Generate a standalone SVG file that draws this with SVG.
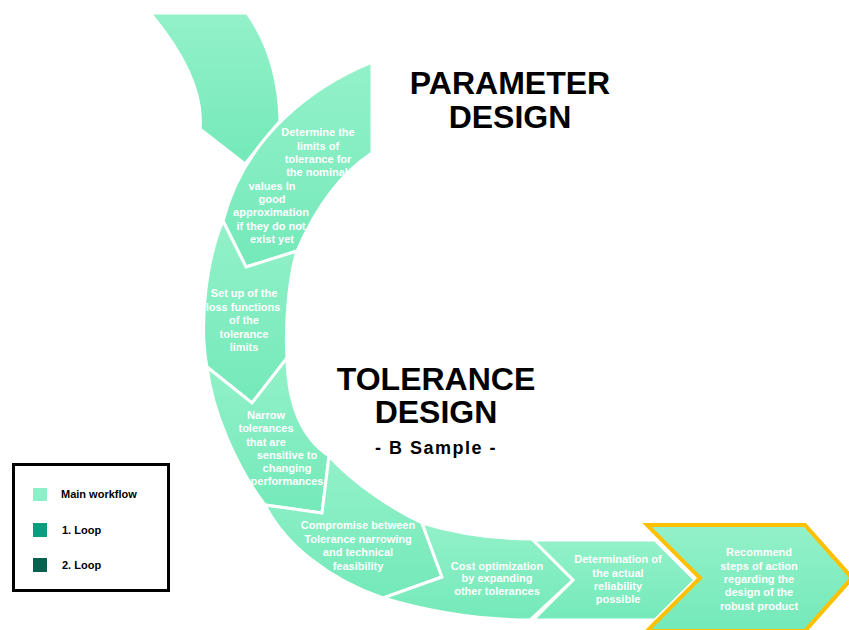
<svg xmlns="http://www.w3.org/2000/svg" width="849" height="630" viewBox="0 0 849 630">
<defs>
<linearGradient id="g" x1="0" y1="0" x2="0" y2="1">
<stop offset="0" stop-color="#93F1C9"/>
<stop offset="1" stop-color="#74E9B9"/>
</linearGradient>
<style>
.seg{fill:url(#g);stroke:#FFFFFF;stroke-width:3;stroke-linejoin:miter}
.last{fill:url(#g);stroke:#FFC000;stroke-width:4;stroke-linejoin:miter}
.t{font-family:"Liberation Sans",Arial,sans-serif;font-weight:bold;font-size:11px;fill:#FFFFFF;text-anchor:middle}
.h{font-family:"Liberation Sans",Arial,sans-serif;font-weight:bold;font-size:32px;fill:#000000;text-anchor:middle}
.lg{font-family:"Liberation Sans",Arial,sans-serif;font-weight:bold;font-size:11px;fill:#000000}
</style>
</defs>
<rect width="849" height="630" fill="#FFFFFF"/>

<g id="connectors"></g>

<g id="seg1">
<path class="seg" d="M150,13 L247,13 Q278.5,57 280,121 L245,164 L200,129 Q205,79 150,13 Z"/>
</g>

<g id="seg2">
<path class="seg" d="M372,62 C315,85 245,135 223,221 L246,267 L297,251 C317,205 343,172 372,153 Z"/>
<text class="t" x="318" y="136">Determine the</text>
<text class="t" x="318" y="149.5">limits of</text>
<text class="t" x="318" y="163">tolerance for</text>
<text class="t" x="317" y="176">the nominal</text>
<text class="t" x="272" y="189.5">values In</text>
<text class="t" x="272" y="203">good</text>
<text class="t" x="271" y="216">approximation</text>
<text class="t" x="271" y="229.5">if they do not</text>
<text class="t" x="272" y="243">exist yet</text>
</g>

<g id="seg3">
<path class="seg" d="M223,221 C208,255 198,320 207,367 L252,403 L287,358 C285,330 288,280 297,251 L246,267 Z"/>
<text class="t" x="244" y="297">Set up of the</text>
<text class="t" x="243" y="311">loss functions</text>
<text class="t" x="244" y="324">of the</text>
<text class="t" x="244" y="338">tolerance</text>
<text class="t" x="244" y="351">limits</text>
</g>

<g id="seg4">
<path class="seg" d="M207,367 C212,410 235,465 265,505 L322,513 L329,456 C305,440 288,410 287,358 L252,403 Z"/>
<text class="t" x="266" y="419">Narrow</text>
<text class="t" x="266" y="432">tolerances</text>
<text class="t" x="266" y="446">that are</text>
<text class="t" x="287" y="459">sensitive to</text>
<text class="t" x="287" y="472">changing</text>
<text class="t" x="287" y="485">performances</text>
</g>

<g id="seg5">
<path class="seg" d="M265,505 C285,545 330,580 383,598 L442,577 L422,523 C395,510 355,485 329,456 L322,513 Z"/>
<text class="t" x="358" y="529">Compromise between</text>
<text class="t" x="358" y="543">Tolerance narrowing</text>
<text class="t" x="358" y="556">and technical</text>
<text class="t" x="358" y="570">feasibility</text>
</g>

<g id="seg6">
<path class="seg" d="M422,523 C455,533 495,539 533,539 L573,580 L530,620 C480,620 430,612 383,598 L442,577 Z"/>
<text class="t" x="497" y="570">Cost optimization</text>
<text class="t" x="497" y="582">by expanding</text>
<text class="t" x="497" y="595">other tolerances</text>
</g>

<g id="seg7">
<path class="seg" d="M533,540 L655,540 L695,580 L655,620 L533,620 L573,580 Z"/>
<text class="t" x="618" y="563">Determination of</text>
<text class="t" x="618" y="577">the actual</text>
<text class="t" x="618" y="590">reliability</text>
<text class="t" x="618" y="603">possible</text>
</g>

<g id="seg8">
<path class="last" d="M647,525 L805,525 L852,578 L805,631 L647,631 L700,578 Z"/>
<text class="t" x="759" y="556">Recommend</text>
<text class="t" x="759" y="570">steps of action</text>
<text class="t" x="759" y="583">regarding the</text>
<text class="t" x="759" y="596">design of the</text>
<text class="t" x="759" y="610">robust product</text>
</g>

<g id="title-parameter">
<text class="h" x="510" y="94">PARAMETER</text>
<text class="h" x="510" y="128">DESIGN</text>
</g>

<g id="title-tolerance">
<text class="h" x="436" y="390">TOLERANCE</text>
<text class="h" x="436" y="423">DESIGN</text>
<text x="436" y="454" font-family="Liberation Sans, Arial, sans-serif" font-weight="bold" font-size="18" letter-spacing="1.5" text-anchor="middle" fill="#000000">- B Sample -</text>
</g>

<g id="legend">
<rect x="13.5" y="464.5" width="155" height="126" fill="#FFFFFF" stroke="#000000" stroke-width="3"/>
<rect x="33" y="488" width="14" height="13" fill="#8CF0C8"/>
<text class="lg" x="61" y="498">Main workflow</text>
<rect x="33" y="523" width="14" height="14" fill="#0A9E80"/>
<text class="lg" x="62" y="534">1. Loop</text>
<rect x="33" y="558" width="14" height="14" fill="#08614F"/>
<text class="lg" x="62" y="569">2. Loop</text>
</g>
</svg>
